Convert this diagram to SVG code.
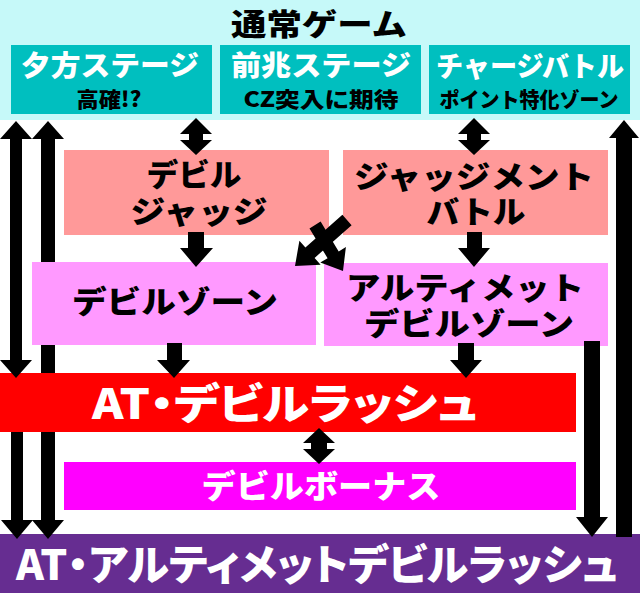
<svg xmlns="http://www.w3.org/2000/svg" width="640" height="593" viewBox="0 0 640 593">
<style>
text{font-family:"Noto Sans CJK JP","Noto Sans CJK SC",sans-serif;font-weight:900;text-anchor:middle}
.w{fill:#FFFFFF}
.k{fill:#000000}
.p{font-feature-settings:"palt"}
.teal{fill:#00BFBF}
.sal{fill:#FF9999}
.pink{fill:#FF99FF}
.arr{fill:#000000}
</style>
<rect width="640" height="593" fill="#FFFFFF"/>
<g id="normal">
<rect x="0" y="0" width="640" height="120" fill="#C6F9F9"/>
<text class="k" x="319" y="35" font-size="30" textLength="176" lengthAdjust="spacingAndGlyphs">通常ゲーム</text>
</g>
<g id="yugata">
<rect class="teal" x="11" y="45" width="201" height="69"/>
<text class="w" x="110" y="76" font-size="28" textLength="178" lengthAdjust="spacingAndGlyphs">夕方ステージ</text>
<text class="k" x="109" y="107" font-size="21" textLength="65" lengthAdjust="spacingAndGlyphs">高確!?</text>
</g>
<g id="zencho">
<rect class="teal" x="220" y="45" width="201" height="69"/>
<text class="w" x="321" y="76" font-size="28" textLength="180" lengthAdjust="spacingAndGlyphs">前兆ステージ</text>
<text class="k" x="321" y="107" font-size="21" textLength="155" lengthAdjust="spacingAndGlyphs">CZ突入に期待</text>
</g>
<g id="charge">
<rect class="teal" x="429" y="45" width="201" height="69"/>
<text class="w" x="530" y="77" font-size="28" textLength="188" lengthAdjust="spacingAndGlyphs">チャージバトル</text>
<text class="k" x="529" y="107" font-size="21" textLength="179" lengthAdjust="spacingAndGlyphs">ポイント特化ゾーン</text>
</g>
<g id="devil-judge">
<rect class="sal" x="64" y="150" width="265" height="85"/>
<text class="k" x="194" y="186" font-size="31" textLength="95" lengthAdjust="spacingAndGlyphs">デビル</text>
<text class="k" x="199" y="223" font-size="31" textLength="137" lengthAdjust="spacingAndGlyphs">ジャッジ</text>
</g>
<g id="judgement-battle">
<rect class="sal" x="343" y="150" width="265" height="85"/>
<text class="k" x="474" y="188" font-size="31" textLength="240" lengthAdjust="spacingAndGlyphs">ジャッジメント</text>
<text class="k" x="476" y="223" font-size="31" textLength="99" lengthAdjust="spacingAndGlyphs">バトル</text>
</g>
<g id="devil-zone">
<rect class="pink" x="32" y="262" width="284" height="83"/>
<text class="k" x="175" y="313" font-size="31" textLength="206" lengthAdjust="spacingAndGlyphs">デビルゾーン</text>
</g>
<g id="ultimate-zone">
<rect class="pink" x="324" y="263" width="284" height="83"/>
<text class="k" x="465" y="299" font-size="31" textLength="238" lengthAdjust="spacingAndGlyphs">アルティメット</text>
<text class="k" x="469" y="335" font-size="31" textLength="210" lengthAdjust="spacingAndGlyphs">デビルゾーン</text>
</g>
<g id="at-devil-rush">
<rect x="0" y="373" width="576" height="59" fill="#FF0000"/>
<text class="w p" x="285" y="419" font-size="42" textLength="386" lengthAdjust="spacingAndGlyphs">AT・デビルラッシュ</text>
</g>
<g id="devil-bonus">
<rect x="64" y="462" width="512" height="48" fill="#FF00FF"/>
<text class="w" x="321" y="498" font-size="32" textLength="239" lengthAdjust="spacingAndGlyphs">デビルボーナス</text>
</g>
<g id="at-ultimate-rush">
<rect x="0" y="534" width="640" height="59" fill="#662D91"/>
<text class="w p" x="317" y="580" font-size="42" textLength="602" lengthAdjust="spacingAndGlyphs">AT・アルティメットデビルラッシュ</text>
</g>
<g id="connectors" class="arr">
<polygon points="16,121 32,139 22,139 22,360 32,360 16,378 0,360 10,360 10,139 0,139"/>
<polygon points="11,432 23,432 23,520 33,520 17,539 1,520 11,520"/>
<polygon points="48,121 64,139 55,139 55,262 41,262 41,139 32,139"/>
<rect x="41" y="345" width="14" height="28"/>
<polygon points="41,432 55,432 55,520 64,520 48,539 32,520 41,520"/>
<polygon points="624,120 639,138 632,138 632,537 616,537 616,138 609,138"/>
<polygon points="584,341 600,341 600,517 608,517 592,537 576,517 584,517"/>
<polygon points="196,118 212,134 203,134 203,140 212,140 196,155 180,140 189,140 189,134 180,134"/>
<polygon points="474,118 490,134 481,134 481,140 490,140 474,155 458,140 467,140 467,134 458,134"/>
<polygon points="188,232 204,232 204,248 213,248 196,267 180,248 188,248"/>
<polygon points="467,232 482,232 482,248 490,248 474,267 458,248 467,248"/>
<polygon points="167,343 182,343 182,360 190,360 174,378 157,360 167,360"/>
<polygon points="458,343 474,343 474,360 482,360 466,378 450,360 458,360"/>
<polygon points="319,428 335,443 327,443 327,449 335,449 319,464 303,449 311,449 311,443 303,443"/>
<polygon points="342.4,214.8 351.6,225.2 314.6,257.9 320.6,264.7 295,266 299.4,240.7 305.4,247.5"/>
<polygon points="320.6,221.6 338.7,251.4 345.9,247.0 343,271 320.3,262.6 327.6,258.2 309.5,228.4"/>
</g>
</svg>
